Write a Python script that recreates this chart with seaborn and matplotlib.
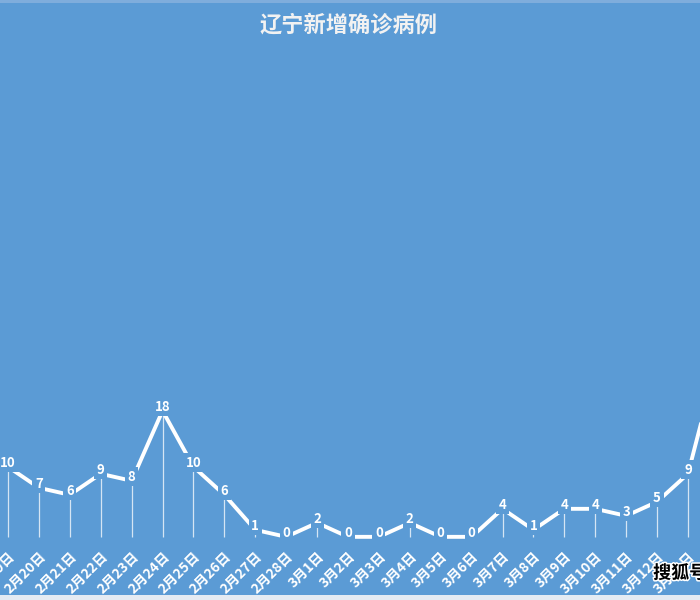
import matplotlib
matplotlib.use("Agg")
import matplotlib.pyplot as plt
import matplotlib.patheffects as pe
from matplotlib.patches import Rectangle
import pandas as pd
import seaborn as sns


BG_BLUE = "#5B9BD5"

dates = [
    "2月19日", "2月20日", "2月21日", "2月22日", "2月23日", "2月24日",
    "2月25日", "2月26日", "2月27日", "2月28日", "3月1日", "3月2日",
    "3月3日", "3月4日", "3月5日", "3月6日", "3月7日", "3月8日",
    "3月9日", "3月10日", "3月11日", "3月12日", "3月13日", "3月14日",
]
new_cases = [10, 7, 6, 9, 8, 18, 10, 6, 1, 0, 2, 0, 0, 2, 0, 0, 4, 1, 4, 4, 3, 5, 9, 26]


def main() -> None:
    sns.set_theme(style="white")
    plt.rcParams["font.family"] = ["Noto Sans CJK SC", "DejaVu Sans"]

    df = pd.DataFrame({"date": dates, "cases": new_cases})
    df["pos"] = range(len(df))

    fig = plt.figure(figsize=(7, 6), dpi=100, facecolor=BG_BLUE)
    ax = fig.add_axes([0, 0.1, 1, 0.84])
    ax.set_facecolor(BG_BLUE)

    # drop lines from each point down to zero
    ax.vlines(df["pos"], 0, df["cases"], color="white", alpha=0.75, linewidth=0.9, zorder=1)

    sns.lineplot(data=df, x="pos", y="cases", color="white", linewidth=2.8, ax=ax, zorder=2)

    for x, y in zip(df["pos"], df["cases"]):
        ax.annotate(
            str(y), (x, y), xytext=(0, 3), textcoords="offset points",
            ha="center", va="center", color="white", fontsize=9.5, fontweight="bold",
            bbox=dict(boxstyle="square,pad=0.2", facecolor=BG_BLUE, edgecolor="none"),
            zorder=3,
        )

    ax.set_xticks(df["pos"])
    ax.set_xticklabels(df["date"], rotation=45, ha="right", rotation_mode="anchor",
                       color="white", fontsize=10, fontweight="bold")
    ax.tick_params(axis="x", length=0, pad=7)
    ax.set_xlim(-0.26, 22.39)
    ax.set_ylim(-0.45, 71.5)
    ax.set_yticks([])
    ax.set_xlabel("")
    ax.set_ylabel("")
    for spine in ax.spines.values():
        spine.set_visible(False)

    fig.text(0.498, 0.958, "辽宁新增确诊病例", ha="center", va="center",
             color="#F2F2F2", fontsize=16, fontweight="bold")

    # thin border strips seen at the top and bottom of the screenshot
    fig.patches.append(Rectangle((0, 0.995), 1, 0.005, transform=fig.transFigure,
                                 facecolor="#7FADDC", edgecolor="none"))
    fig.patches.append(Rectangle((0, 0), 1, 0.008, transform=fig.transFigure,
                                 facecolor="#E4EBF3", edgecolor="none"))

    fig.text(0.933, 0.045, "搜狐号", ha="left", va="center", color="black",
             fontsize=13, fontweight="bold",
             path_effects=[pe.withStroke(linewidth=2.2, foreground="white")])

    fig.savefig("out.png", dpi=100, facecolor=BG_BLUE)
    plt.close(fig)


if __name__ == "__main__":
    main()
